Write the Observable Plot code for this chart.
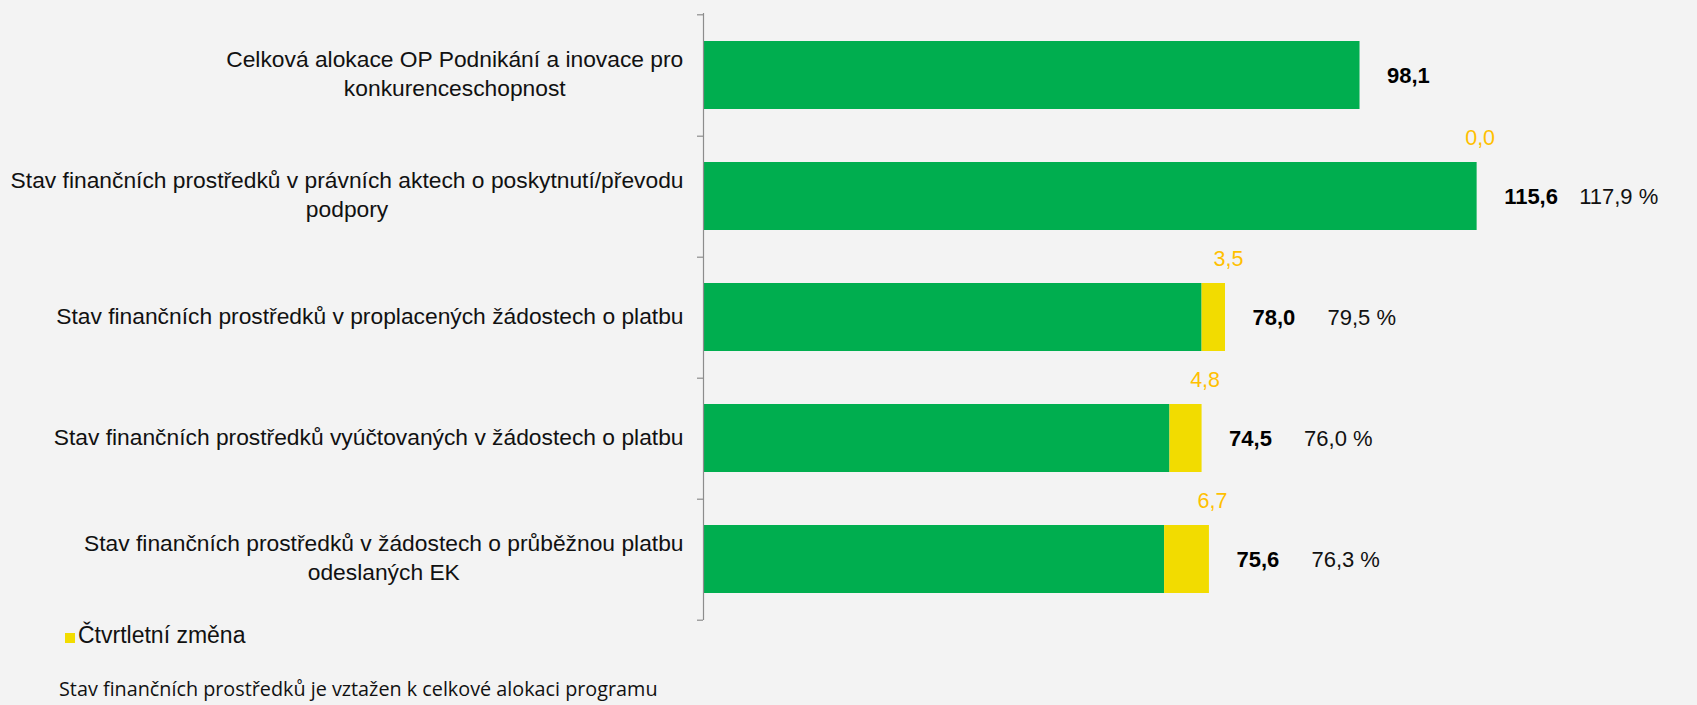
<!DOCTYPE html>
<html>
<head>
<meta charset="utf-8">
<script src="https://cdn.jsdelivr.net/npm/d3@7"></script>
<script src="https://cdn.jsdelivr.net/npm/@observablehq/plot@0.6"></script>
<style>
  html, body { margin: 0; padding: 0; background: #f3f3f3; }
  body { width: 1697px; height: 705px; position: relative; overflow: hidden; font-family: "Liberation Sans", Arial, sans-serif; }
  #chart { position: absolute; left: 0; top: 0; }
  #legend { position: absolute; left: 65px; top: 622px; font-size: 23px; color: #111; display: flex; align-items: center; }
  #legend .sw { width: 10px; height: 10px; background: #f2dc00; margin-right: 3px; margin-top: 5px; }
  #note { position: absolute; left: 59px; top: 675px; font-family: "Open Sans", "Noto Sans", sans-serif; font-size: 19.8px; color: #111; }
</style>
</head>
<body>
<div id="chart"></div>
<div id="legend"><span class="sw"></span><span>Čtvrtletní změna</span></div>
<div id="note">Stav finančních prostředků je vztažen k celkové alokaci programu</div>
<script>
// ---- data ----
const categories = [
  "Celková alokace OP Podnikání a inovace pro\nkonkurenceschopnost",
  "Stav finančních prostředků v právních aktech o poskytnutí/převodu\npodpory",
  "Stav finančních prostředků v proplacených žádostech o platbu",
  "Stav finančních prostředků vyúčtovaných v žádostech o platbu",
  "Stav finančních prostředků v žádostech o průběžnou platbu\nodeslaných EK"
];
const totals = [98.1, 115.6, 78.0, 74.5, 75.6];          // bold labels (stav)
const changes = [null, 0.0, 3.5, 4.8, 6.7];              // Čtvrtletní změna (yellow)
const percents = [null, "117,9 %", "79,5 %", "76,0 %", "76,3 %"];

const fmt = v => v.toFixed(1).replace(".", ",");

const rows = categories.map((c, i) => ({
  cat: c,
  total: totals[i],
  change: changes[i],
  base: totals[i] - (changes[i] ?? 0),
  pct: percents[i]
}));

const W = 1697, H = 625;
const mTop = 13, mBottom = 5, mLeft = 703, mRight = 124;
const GREEN = "#00ae4f", YELLOW = "#f2dc00", GOLD = "#ffc000", AXIS = "#8c8c8c";
const FONT = '"Liberation Sans", Arial, sans-serif';
const LABEL_SIZE = 22.8;

// measure longest line of each category label to center the lines as a block
const ctx = document.createElement("canvas").getContext("2d");
ctx.font = `${LABEL_SIZE}px ${FONT}`;
const blockWidth = c => d3.max(c.split("\n"), l => ctx.measureText(l).width);

const step = (H - mTop - mBottom) / categories.length;

const labelMarks = rows.map(r => Plot.text([r], {
  x: () => 0, y: "cat", text: "cat",
  textAnchor: "middle", lineAnchor: "middle", lineHeight: 1.27,
  dx: -(20 + blockWidth(r.cat) / 2), dy: -3,
  fontSize: LABEL_SIZE, fill: "#111"
}));

const chart = Plot.plot({
  width: W, height: H,
  marginTop: mTop, marginBottom: mBottom, marginLeft: mLeft, marginRight: mRight,
  style: { background: "transparent", fontFamily: FONT },
  x: { domain: [0, 130], axis: null },
  y: { domain: categories, paddingInner: 0.44, paddingOuter: 0.22, axis: null },
  marks: [
    Plot.barX(rows, { y: "cat", x1: 0, x2: "base", fill: GREEN }),
    Plot.barX(rows.filter(r => r.change), { y: "cat", x1: "base", x2: "total", fill: YELLOW }),
    // axis line and boundary ticks
    Plot.ruleX([0], { stroke: AXIS, strokeWidth: 1.2 }),
    Plot.ruleY(rows, { y: "cat", x1: 0, x2: 0, insetLeft: -6, dy: step / 2, stroke: AXIS, strokeWidth: 1.2 }),
    Plot.ruleY(rows.slice(0, 1), { y: "cat", x1: 0, x2: 0, insetLeft: -6, dy: -step / 2, stroke: AXIS, strokeWidth: 1.2 }),
    ...labelMarks,
    // bold total labels
    Plot.text(rows, { x: "total", y: "cat", text: d => fmt(d.total), textAnchor: "start", dx: 27, fontWeight: "bold", fontSize: 22, fill: "#000" }),
    // percent labels
    Plot.text(rows.filter(r => r.pct), { x: "total", y: "cat", text: "pct", textAnchor: "start", dx: 102, fontSize: 22, fill: "#111" }),
    // yellow change labels
    Plot.text(rows.filter(r => r.change !== null), { x: "total", y: "cat", text: d => fmt(d.change), textAnchor: "middle", dx: 3, dy: -58, fontSize: 21.5, fill: GOLD })
  ]
});
document.getElementById("chart").appendChild(chart);
</script>
</body>
</html>
